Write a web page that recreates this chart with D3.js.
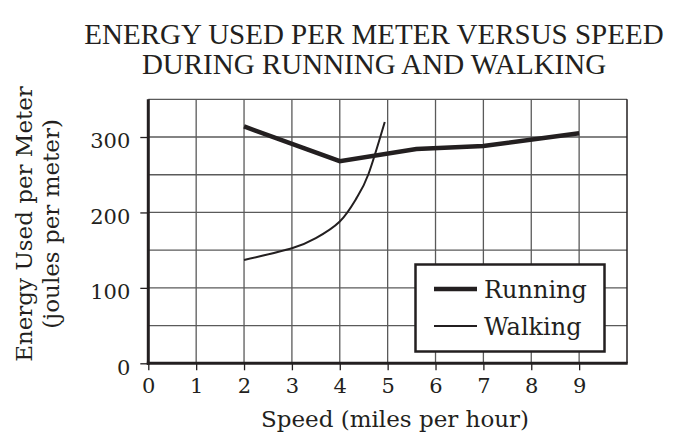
<!DOCTYPE html>
<html>
<head>
<meta charset="utf-8">
<script src="https://cdn.jsdelivr.net/npm/d3@7"></script>
<style>
  html, body { margin: 0; padding: 0; background: #fff; }
  svg { display: block; }
</style>
</head>
<body>
<script>
// Energy used per meter vs speed, running and walking
const titleLines = ["ENERGY USED PER METER VERSUS SPEED", "DURING RUNNING AND WALKING"];
const yTitleLines = ["Energy Used per Meter", "(joules per meter)"];
const xTitle = "Speed (miles per hour)";

const xTicks = [0, 1, 2, 3, 4, 5, 6, 7, 8, 9];
const yTicks = [0, 100, 200, 300];

// speed (mph), energy (J/m)
const runningSpeed  = [2, 4, 5.6, 7, 9];
const runningEnergy = [314, 268, 284, 288, 305];

const walkingSpeed  = [2, 3, 3.5, 4, 4.35, 4.6, 4.94];
const walkingEnergy = [137, 152.5, 166, 188, 219, 251, 320];

const seriesNames = ["Running", "Walking"];

const W = 679, H = 438;
const m = { left: 148.3, right: W - 627, top: 99.3, bottom: H - 363.3 };

const svg = d3.select("body").append("svg").attr("width", W).attr("height", H);

const x = d3.scaleLinear().domain([0, 10]).range([m.left, W - m.right]);
const y = d3.scaleLinear().domain([0, 350]).range([H - m.bottom, m.top]);

const serif = "'DejaVu Serif', serif";
const ink = "#231f20";

// title
svg.append("g").selectAll("text").data(titleLines).join("text")
  .attr("x", 374).attr("y", (d, i) => 44 + i * 30)
  .attr("text-anchor", "middle")
  .attr("font-family", "'Liberation Serif', serif")
  .attr("font-size", 29)
  .attr("fill", ink)
  .text(d => d);

// grid
const grid = svg.append("g").attr("stroke", "#5a5a5a").attr("stroke-width", 1.3);
grid.selectAll(".gx").data(d3.range(1, 10)).join("line")
  .attr("x1", d => x(d)).attr("x2", d => x(d))
  .attr("y1", y(0)).attr("y2", y(350));
grid.selectAll(".gy").data(d3.range(50, 351, 50)).join("line")
  .attr("x1", x(0)).attr("x2", x(10))
  .attr("y1", d => y(d)).attr("y2", d => y(d));
// right border
svg.append("line")
  .attr("x1", x(10)).attr("x2", x(10)).attr("y1", y(0)).attr("y2", y(350))
  .attr("stroke", ink).attr("stroke-width", 1.5);

// axes
const xAxis = svg.append("g").attr("transform", `translate(0,${y(0)})`)
  .call(d3.axisBottom(x).tickValues(xTicks).tickSize(7).tickPadding(6).tickFormat(d3.format("d")));
const yAxis = svg.append("g").attr("transform", `translate(${x(0)},0)`)
  .call(d3.axisLeft(y).tickValues(yTicks).tickSize(8).tickPadding(10).tickFormat(d3.format("d")));

[xAxis, yAxis].forEach(a => {
  a.select(".domain").remove();
  a.selectAll(".tick line").attr("stroke", ink).attr("stroke-width", 1.3);
  a.selectAll(".tick text").attr("font-family", serif).attr("font-size", 21).attr("fill", ink);
});
yAxis.selectAll(".tick text").attr("dy", "0.52em");
xAxis.selectAll(".tick text").attr("dy", "0.78em");

// heavy axis lines
svg.append("line")
  .attr("x1", x(0)).attr("x2", x(0)).attr("y1", y(0) + 1.5).attr("y2", y(350))
  .attr("stroke", ink).attr("stroke-width", 3);
svg.append("line")
  .attr("x1", x(0) - 1.5).attr("x2", x(10) + 0.7).attr("y1", y(0)).attr("y2", y(0))
  .attr("stroke", ink).attr("stroke-width", 3);

// axis titles
svg.append("text")
  .attr("x", 395).attr("y", 427)
  .attr("text-anchor", "middle")
  .attr("font-family", serif).attr("font-size", 23).attr("fill", ink)
  .text(xTitle);

svg.append("g").selectAll("text").data(yTitleLines).join("text")
  .attr("transform", (d, i) => `translate(${32 + i * 27},224) rotate(-90)`)
  .attr("text-anchor", "middle")
  .attr("font-family", serif).attr("font-size", 23).attr("fill", ink)
  .text(d => d);

// series
const line = d3.line().x(d => x(d[0])).y(d => y(d[1]));
const running = d3.zip(runningSpeed, runningEnergy);
const walking = d3.zip(walkingSpeed, walkingEnergy);

svg.append("path").datum(walking)
  .attr("d", line.curve(d3.curveNatural))
  .attr("fill", "none").attr("stroke", ink).attr("stroke-width", 2);

svg.append("path").datum(running)
  .attr("d", line.curve(d3.curveLinear))
  .attr("fill", "none").attr("stroke", ink).attr("stroke-width", 4.5)
  .attr("stroke-linejoin", "miter");

// legend
const lg = svg.append("g");
lg.append("rect")
  .attr("x", 415.5).attr("y", 264.5).attr("width", 189).attr("height", 87)
  .attr("fill", "#fff").attr("stroke", ink).attr("stroke-width", 2.5);
const widths = [4.5, 2];
seriesNames.forEach((name, i) => {
  const yy = 289 + i * 37;
  lg.append("line").attr("x1", 434).attr("x2", 477).attr("y1", yy).attr("y2", yy)
    .attr("stroke", ink).attr("stroke-width", widths[i]);
  lg.append("text").attr("x", 484).attr("y", yy + 9)
    .attr("font-family", serif).attr("font-size", 24).attr("fill", ink)
    .text(name);
});
</script>
</body>
</html>
